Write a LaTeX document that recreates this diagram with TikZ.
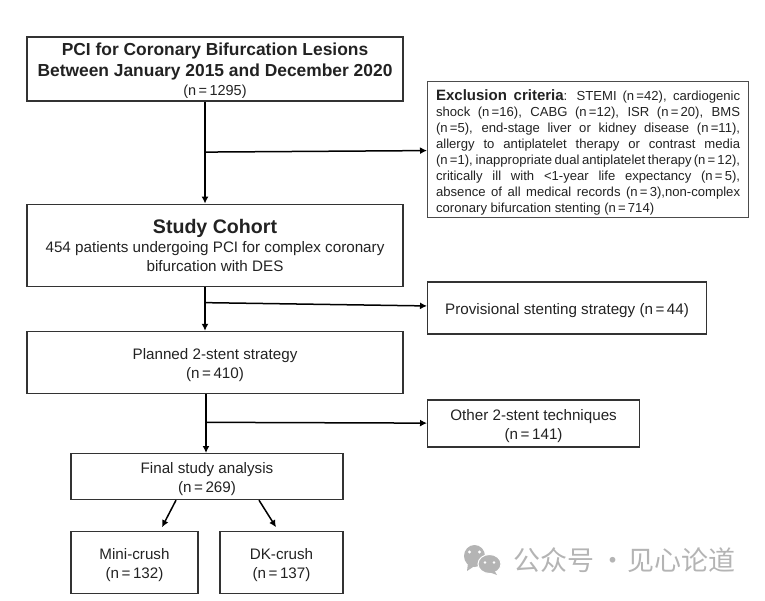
\documentclass[tikz,border=0pt]{standalone}
\usepackage{fontspec}
\setmainfont{Liberation Sans}
\newfontfamily\cjkfont{Noto Sans CJK SC}
\usetikzlibrary{arrows.meta,positioning}
\definecolor{inkgray}{HTML}{222222}
\definecolor{markgray}{HTML}{B4B4B4}
\newcommand{\headfont}{\fontsize{17.4}{21}\selectfont\bfseries}
\newcommand{\dropline}{\rule{0pt}{15.5pt}}
\begin{document}
\begin{tikzpicture}[
  x=1pt, y=-1pt,
  font=\fontsize{15.2}{19}\selectfont,
  text=inkgray,
  >={Latex[length=7pt,width=7pt]},
  box/.style={draw=black!80, line width=1.2pt, align=center, inner sep=2pt},
  mainbox/.style={box, minimum width=376pt},
  flow/.style={->, line width=1.5pt, black},
]
\useasboundingbox (0,0) rectangle (765,601);

\node[mainbox, minimum height=64pt] at (215,69) (bifurcation) {%
  \rule{0pt}{17pt}{\headfont PCI for Coronary Bifurcation Lesions}\\[2pt]
  {\headfont Between January 2015 and December 2020}\\
  {\fontsize{14.5}{16}\selectfont (n\,=\,1295)}};
\node[mainbox, minimum height=82pt, below=102pt of bifurcation] (cohort) {%
  {\fontsize{19.6}{24}\selectfont\bfseries Study Cohort}\\
  454 patients undergoing PCI for complex coronary\\bifurcation with DES};
\node[mainbox, minimum height=62pt, below=44pt of cohort] (planned) {\dropline Planned 2-stent strategy\\(n\,=\,410)};
\node[box, minimum width=272pt, minimum height=46pt, below=59pt of planned, xshift=-8pt] (final) {\dropline Final study analysis\\(n\,=\,269)};
\node[box, minimum width=127pt, minimum height=62pt, below=31pt of final.south west, anchor=north west] (minicrush) {\dropline Mini-crush\\(n\,=\,132)};
\node[box, minimum width=123pt, minimum height=62pt, below=31pt of final.south east, anchor=north east] (dkcrush) {\dropline DK-crush\\(n\,=\,137)};

% side boxes, dropped out of the cohort at each step
\node[draw=black!70, line width=1.2pt, text width=304pt, inner xsep=8.5pt, inner ysep=2.5pt, align=justify, anchor=west,
  font=\fontsize{13.1}{16}\selectfont] at (427,149.5) (exclusion) {%
  \rule{0pt}{17pt}{\fontsize{15}{16}\selectfont\bfseries Exclusion criteria}: STEMI (n\,=42), cardiogenic\linebreak
  shock (n\,=16), CABG (n\,=12), ISR (n\,=\,20), BMS\linebreak
  (n\,=5), end-stage liver or kidney disease (n\,=11),\linebreak
  allergy to antiplatelet therapy or contrast media\linebreak
  (n\,=1), inappropriate dual antiplatelet therapy\,(n\,=\,12),\linebreak
  critically ill with <1-year life expectancy (n\,=\,5),\linebreak
  absence of all medical records (n\,=\,3),non-complex\linebreak
  coronary bifurcation stenting (n\,=\,714)};
\node[box, minimum width=279pt, minimum height=52pt, anchor=west] at (427,308) (provisional) {\dropline Provisional stenting strategy (n\,=\,44)};
\node[box, minimum width=212pt, minimum height=47pt, anchor=west] at (427,423.5) (othertech) {\dropline Other 2-stent techniques\\(n\,=\,141)};

\draw[flow] ([xshift=-10pt]bifurcation.south) -- coordinate[pos=0.495] (splitone) ([xshift=-10pt]cohort.north);
\draw[flow] ([xshift=-10pt]cohort.south) -- coordinate[pos=0.36] (splittwo) ([xshift=-10pt]planned.north);
\draw[flow] ([xshift=-9pt]planned.south) -- coordinate[pos=0.48] (splitthree) ([xshift=-1pt]final.north);

\draw[flow] (splitone) -- (exclusion);
\draw[flow] (splittwo) -- (provisional);
\draw[flow] (splitthree) -- (othertech);

\draw[flow] ([xshift=-31pt]final.south) -- ([xshift=27.5pt,yshift=4pt]minicrush.north);
\draw[flow] ([xshift=52pt]final.south) -- ([xshift=-5.5pt,yshift=4pt]dkcrush.north);

% two chat bubbles and the account name, lower right
\fill[markgray] (474.5,556) ellipse (10.5pt and 11pt);
\fill[markgray] (468,563) -- (467,571) -- (476,565) -- cycle;
\fill[white] (469.5,552) circle (1.6pt) (479.5,552) circle (1.6pt);
\fill[markgray, draw=white, line width=1pt] (489.5,564) ellipse (11.5pt and 9.5pt);
\fill[markgray] (494,570) -- (497,575) -- (489,572) -- cycle;
\fill[white] (485,562.5) circle (1.4pt) (494,562.5) circle (1.4pt);
\node[text=markgray, font=\cjkfont\fontsize{27}{28}\selectfont, inner sep=0pt, anchor=west] at (513,560) (account) {公众号\hspace{5pt}·\hspace{1pt}见心论道};
\end{tikzpicture}
\end{document}
